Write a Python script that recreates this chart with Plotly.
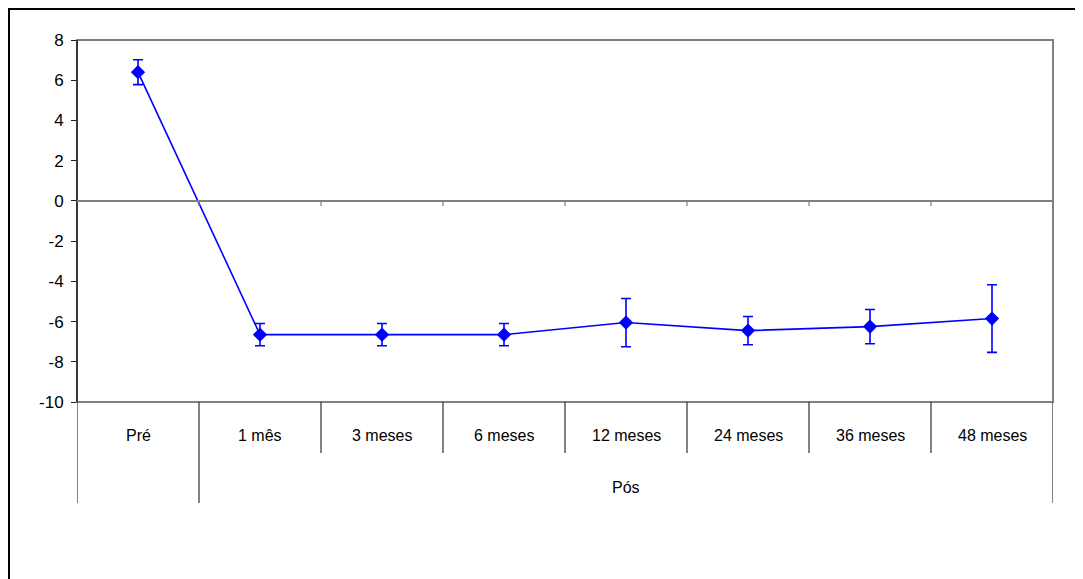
import plotly.graph_objects as go

categories = ["Pré", "1 mês", "3 meses", "6 meses", "12 meses", "24 meses", "36 meses", "48 meses"]
group_label = "Pós"
means = [6.4, -6.65, -6.65, -6.65, -6.05, -6.45, -6.25, -5.85]
errors = [0.62, 0.55, 0.55, 0.55, 1.2, 0.7, 0.85, 1.68]
y_ticks = [-10, -8, -6, -4, -2, 0, 2, 4, 6, 8]
y_tick_text = ["-10", "-8", "-6", "-4", "-2", "0", "2", "4", "6", "8"]

FONT = "Liberation Sans, Arial, sans-serif"
BLUE = "#0000FF"
GRAY = "#808080"

# page has an 8px body margin; figure size/margins compensate for it
W, H = 1075, 571
ML, MT, MR, MB = 69, 32, 30, 177
PW = W - ML - MR
PH = H - MT - MB


def py(page_y):
    """paper y for a page pixel row"""
    return (MT + PH - (page_y - 8)) / PH


fig = go.Figure()
fig.add_trace(go.Scatter(
    x=categories, y=means, mode="lines+markers",
    line=dict(color=BLUE, width=1.6),
    marker=dict(symbol="diamond", size=11, color=BLUE),
    error_y=dict(type="data", array=errors, visible=True, color=BLUE, thickness=1.6, width=5),
    showlegend=False, hoverinfo="skip",
))

n = len(categories)
shapes = []
shapes.append(dict(type="rect", xref="paper", yref="paper", x0=0, x1=1, y0=0, y1=1,
                   line=dict(color=GRAY, width=2), layer="below"))
shapes.append(dict(type="line", xref="paper", yref="paper", x0=0, x1=0, y0=0, y1=1,
                   line=dict(color="#202020", width=1.5)))
shapes.append(dict(type="line", xref="paper", yref="y", x0=0, x1=1, y0=0, y1=0,
                   line=dict(color=GRAY, width=2)))
for k in range(1, n + 1):
    shapes.append(dict(type="line", xref="x", yref="y", x0=k - 0.5, x1=k - 0.5, y0=0, y1=-0.25,
                       line=dict(color=GRAY, width=1.2)))
row1 = py(453)
row2 = py(503)
for k in range(0, n + 1):
    x = k - 0.5
    full = k in (0, 1, n)
    shapes.append(dict(type="line", xref="x", yref="paper", x0=x, x1=x, y0=0,
                       y1=row2 if full else row1,
                       line=dict(color="#303030", width=1.2)))
# outer chart border
shapes.append(dict(type="rect", xref="paper", yref="paper",
                   x0=(1 - ML) / PW, x1=(W + 20 - ML) / PW,
                   y0=py(620), y1=py(9),
                   line=dict(color="black", width=2)))

annotations = []
for c in categories:
    annotations.append(dict(x=c, y=py(435), xref="x", yref="paper", text=c, showarrow=False,
                            font=dict(family=FONT, size=16, color="black"),
                            xanchor="center", yanchor="middle"))
annotations.append(dict(x=(n - 1) / 2 + 0.5, y=py(487), xref="x", yref="paper",
                        text=group_label, showarrow=False,
                        font=dict(family=FONT, size=16, color="black"),
                        xanchor="center", yanchor="middle"))

fig.update_layout(
    width=W, height=H,
    margin=dict(l=ML, r=MR, t=MT, b=MB),
    paper_bgcolor="white", plot_bgcolor="white",
    xaxis=dict(type="category", range=[-0.5, n - 0.5], showticklabels=False, showgrid=False,
               zeroline=False, showline=False, ticks="", automargin=False),
    yaxis=dict(range=[-10, 8], tickvals=y_ticks, ticktext=y_tick_text, ticks="outside", ticklen=5,
               tickcolor="#202020", showgrid=False, zeroline=False, showline=False,
               automargin=False, ticklabelstandoff=4,
               tickfont=dict(family=FONT, size=17, color="black")),
    shapes=shapes, annotations=annotations,
)
fig.write_html("out.html")
